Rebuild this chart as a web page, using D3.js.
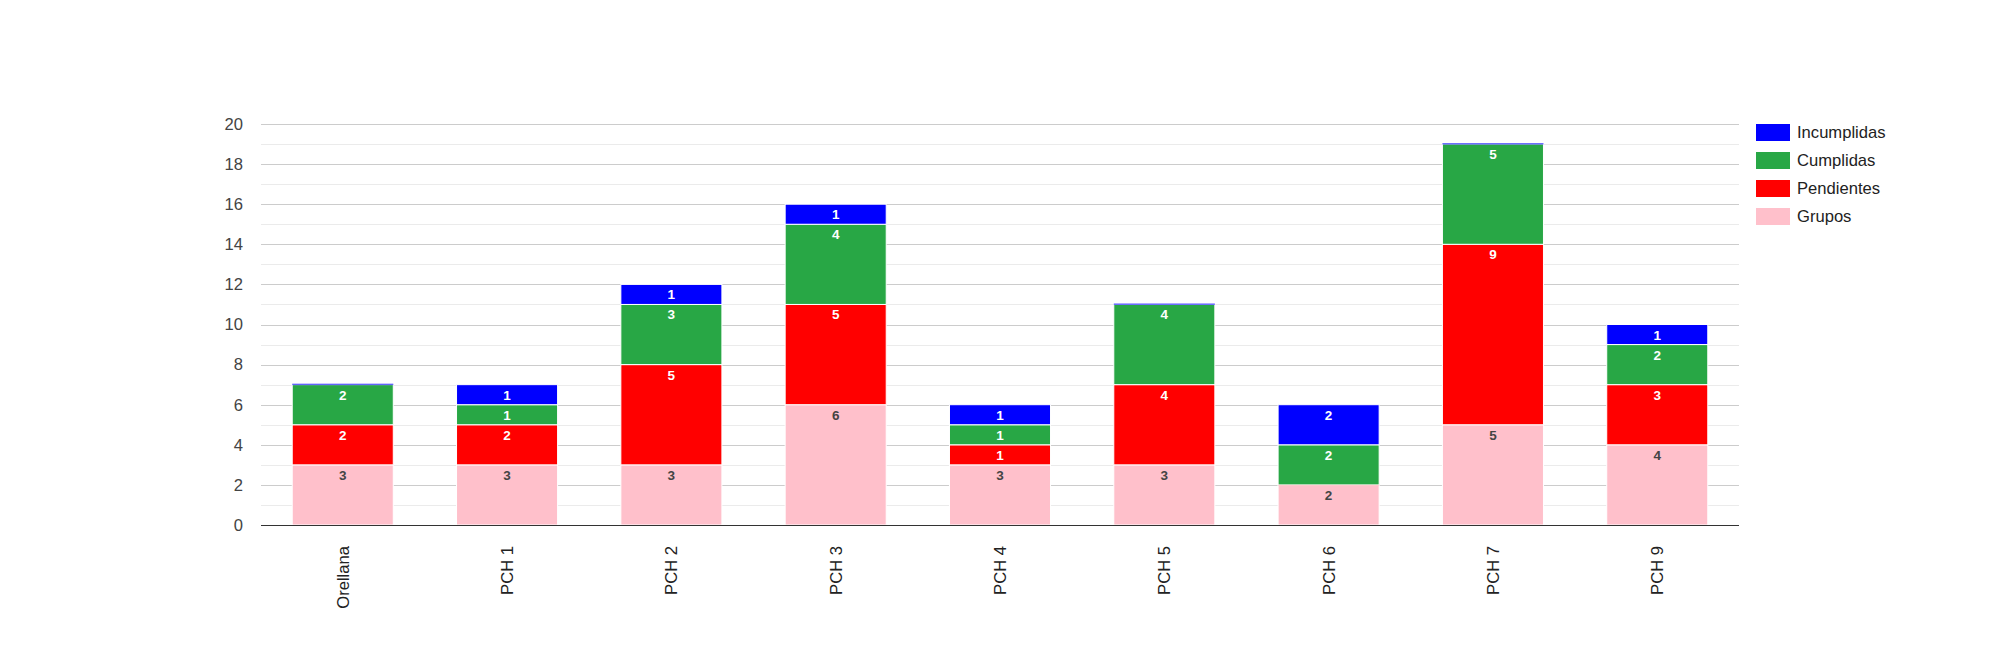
<!DOCTYPE html>
<html>
<head>
<meta charset="utf-8">
<script src="https://cdn.jsdelivr.net/npm/d3@7"></script>
<style>
  body { margin: 0; background: #fff; }
  text { font-family: Arial, "Liberation Sans", sans-serif; }
</style>
</head>
<body>
<div id="chart"></div>
<script>
// categories and series values
const categories = ["Orellana", "PCH 1", "PCH 2", "PCH 3", "PCH 4", "PCH 5", "PCH 6", "PCH 7", "PCH 9"];
const grupos      = [3, 3, 3, 6, 3, 3, 2, 5, 4];
const pendientes  = [2, 2, 5, 5, 1, 4, 0, 9, 3];
const cumplidas   = [2, 1, 3, 4, 1, 4, 2, 5, 2];
const incumplidas = [0, 1, 1, 1, 1, 0, 2, 0, 1];
const yTicks = [0, 2, 4, 6, 8, 10, 12, 14, 16, 18, 20];

const series = [
    {name: "Grupos", values: grupos, color: "#ffc0cb", label: "#444"},
    {name: "Pendientes", values: pendientes, color: "#ff0000", label: "#fff"},
    {name: "Cumplidas", values: cumplidas, color: "#28a745", label: "#fff"},
    {name: "Incumplidas", values: incumplidas, color: "#0000ff", label: "#fff"}
];

const W = 2000, H = 650;
const margin = {top: 124, right: 261, bottom: 125, left: 261};
const width = W - margin.left - margin.right;
const height = H - margin.top - margin.bottom;

const svg = d3.select("#chart").append("svg")
    .attr("width", W)
    .attr("height", H);
const g = svg.append("g")
    .attr("transform", `translate(${margin.left},${margin.top})`);

const x = d3.scaleBand()
    .domain(categories)
    .range([0, width])
    .paddingInner(0.385)
    .paddingOuter(0.19);
const y = d3.scaleLinear()
    .domain([0, 20])
    .range([height, 0]);

// minor gridlines
g.append("g").selectAll("line")
    .data(d3.range(1, 20, 2))
    .join("line")
    .attr("x1", 0).attr("x2", width)
    .attr("y1", d => Math.round(y(d)) + 0.5)
    .attr("y2", d => Math.round(y(d)) + 0.5)
    .attr("stroke", "#ebebeb");

// major gridlines
g.append("g").selectAll("line")
    .data(yTicks.slice(1))
    .join("line")
    .attr("x1", 0).attr("x2", width)
    .attr("y1", d => Math.round(y(d)) + 0.5)
    .attr("y2", d => Math.round(y(d)) + 0.5)
    .attr("stroke", "#cccccc");

// y axis labels
const yAxis = g.append("g")
    .call(d3.axisLeft(y).tickValues(yTicks).tickSize(0).tickPadding(18));
yAxis.select(".domain").remove();
yAxis.selectAll("text")
    .style("font-size", "16.6px")
    .style("fill", "#444")
    .style("font-family", "Arial, 'Liberation Sans', sans-serif");

// stack
const stackData = categories.map((c, i) => {
    const row = {cat: c};
    series.forEach(s => row[s.name] = s.values[i]);
    return row;
});
const stacked = d3.stack().keys(series.map(s => s.name))(stackData);

stacked.forEach((layer, li) => {
    const s = series[li];
    const lg = g.append("g");
    lg.selectAll("rect")
        .data(layer)
        .join("rect")
        .attr("x", d => x(d.data.cat))
        .attr("width", x.bandwidth())
        .attr("y", d => d[1] === d[0] ? y(d[1]) - 1 : y(d[1]))
        .attr("height", d => d[1] === d[0] ? 1.5 : y(d[0]) - y(d[1]))
        .attr("fill", s.color)
        .attr("fill-opacity", d => d[1] === d[0] ? 0.6 : 1)
        .attr("stroke", d => d[1] === d[0] ? "none" : "#fff")
        .attr("stroke-width", 1);
    lg.selectAll("text")
        .data(layer.filter(d => d[1] > d[0]))
        .join("text")
        .attr("x", d => x(d.data.cat) + x.bandwidth() / 2)
        .attr("y", d => y(d[1]) + 15)
        .attr("text-anchor", "middle")
        .style("font-size", "13.5px")
        .style("font-weight", "bold")
        .style("fill", s.label)
        .text(d => d[1] - d[0]);
});

// baseline
g.append("line")
    .attr("x1", 0).attr("x2", width)
    .attr("y1", height + 0.5).attr("y2", height + 0.5)
    .attr("stroke", "#333");

// x axis labels
g.append("g").selectAll("text")
    .data(categories)
    .join("text")
    .attr("transform", d => `translate(${x(d) + x.bandwidth() / 2 + 6},${height + 21}) rotate(-90)`)
    .attr("text-anchor", "end")
    .style("font-size", "16.6px")
    .style("fill", "#222")
    .text(d => d);

// legend
const legend = svg.append("g")
    .attr("transform", `translate(1756,124)`);
const legendItems = series.slice().reverse();
legendItems.forEach((s, i) => {
    const row = legend.append("g").attr("transform", `translate(0,${i * 28})`);
    row.append("rect")
        .attr("width", 34).attr("height", 17)
        .attr("fill", s.color);
    row.append("text")
        .attr("x", 41).attr("y", 14)
        .style("font-size", "16.6px")
        .style("fill", "#222")
        .text(s.name);
});
</script>
</body>
</html>
